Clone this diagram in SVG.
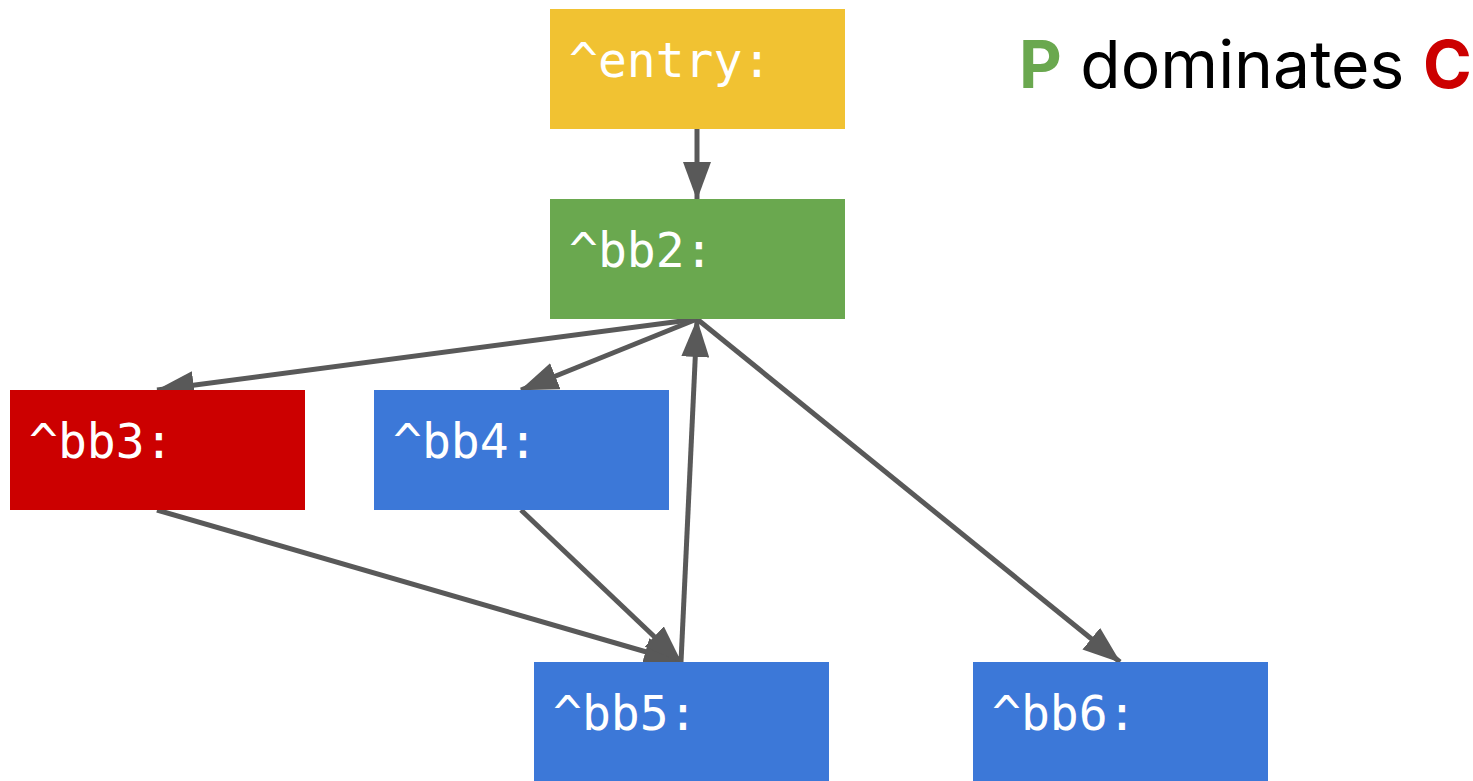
<svg xmlns="http://www.w3.org/2000/svg" width="1473" height="781" viewBox="0 0 1473 781">
<style>
.lbl{font-family:"DejaVu Sans Mono",monospace;font-size:48px;fill:#ffffff}
.e{stroke:#595959;stroke-width:5;fill:none;marker-end:url(#ah)}
.leg{font-family:Inter,"Liberation Sans",sans-serif;font-size:66px;fill:#000000}
</style>
<defs>
<marker id="ah" markerUnits="userSpaceOnUse" markerWidth="38" markerHeight="28" viewBox="0 0 38 28" refX="37" refY="14" orient="auto">
<path d="M0,0 L38,14 L0,28 z" fill="#595959"/>
</marker>
</defs>
<rect width="1473" height="781" fill="#ffffff"/>
<g id="connectors">
<line class="e" x1="697" y1="129" x2="697" y2="199"/>
<line class="e" x1="697" y1="319" x2="157" y2="390"/>
<line class="e" x1="697" y1="319" x2="521" y2="390"/>
<line class="e" x1="697" y1="319" x2="1120" y2="662"/>
<line class="e" x1="157" y1="510" x2="681" y2="662"/>
<line class="e" x1="521" y1="510" x2="681" y2="662"/>
<line class="e" x1="681" y1="662" x2="697" y2="320"/>
</g>
<g id="entry"><rect x="550" y="9" width="295" height="120" fill="#f1c232"/><text class="lbl" x="569" y="77">^entry:</text></g>
<g id="bb2"><rect x="550" y="199" width="295" height="120" fill="#6aa84f"/><text class="lbl" x="569" y="267">^bb2:</text></g>
<g id="bb3"><rect x="10" y="390" width="295" height="120" fill="#cc0000"/><text class="lbl" x="29" y="458">^bb3:</text></g>
<g id="bb4"><rect x="374" y="390" width="295" height="120" fill="#3c78d8"/><text class="lbl" x="393" y="458">^bb4:</text></g>
<g id="bb5"><rect x="534" y="662" width="295" height="119" fill="#3c78d8"/><text class="lbl" x="553" y="730">^bb5:</text></g>
<g id="bb6"><rect x="973" y="662" width="295" height="119" fill="#3c78d8"/><text class="lbl" x="992" y="730">^bb6:</text></g>
<g id="legend"><text class="leg" x="1019" y="88"><tspan fill="#6aa84f" font-weight="bold">P</tspan> dominates <tspan fill="#cc0000" font-weight="bold">C</tspan></text></g>
</svg>
